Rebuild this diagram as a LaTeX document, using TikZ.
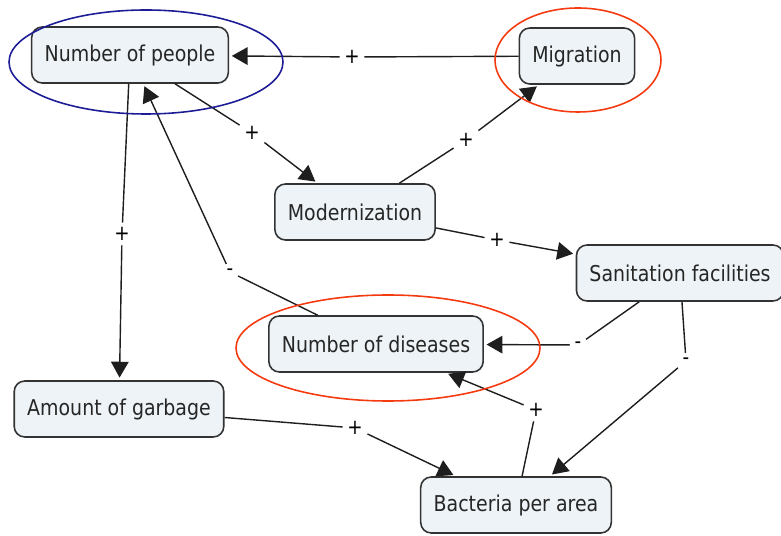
\documentclass[tikz,border=0pt]{standalone}
\usepackage{fontspec}
\setmainfont{DejaVu Sans}[FakeStretch=0.87]
\usetikzlibrary{arrows.meta}

\definecolor{conceptfill}{HTML}{EDF3F6}
\definecolor{conceptline}{HTML}{333333}
\definecolor{linkline}{HTML}{1E1E1E}
\definecolor{ringblue}{HTML}{1C1C96}
\definecolor{ringred}{HTML}{F53A10}

\begin{document}
\begin{tikzpicture}[x=0.02cm, y=-0.02cm,
    concept/.style={rectangle, rounded corners=6pt, draw=conceptline, line width=0.9pt,
        fill=conceptfill, minimum height=1.12cm, inner xsep=0.26cm,
        font=\fontsize{12.4}{14}\selectfont, text=black!85},
    linklabel/.style={fill=white, inner sep=2.5pt, font=\fontsize{12}{14}\selectfont},
    link/.style={line width=0.8pt, linkline},
    arrowlink/.style={link, shorten >=1.5pt, -{Triangle[length=9pt, width=10pt]}},
    ring/.style={line width=0.9pt}]
    \useasboundingbox (0,0) rectangle (781,536);

    % Concepts
    \node[concept] (people) at (130,55) {Number of people};
    \node[concept] (migration) at (577,56) {Migration};
    \node[concept] (modern) at (355,212) {Modernization};
    \node[concept] (sanitation) at (680,273) {Sanitation facilities};
    \node[concept] (diseases) at (376,344) {Number of diseases};
    \node[concept] (garbage) at (119,409) {Amount of garbage};
    \node[concept] (bacteria) at (516,505) {Bacteria per area};

    % Link labels
    \node[linklabel] (migpeople) at (352,57) {+};
    \node[linklabel] (peoplemod) at (252,133) {+};
    \node[linklabel] (modmig) at (466,140) {+};
    \node[linklabel] (peoplegarb) at (122,234) {+};
    \node[linklabel] (modsan) at (497,240) {+};
    \node[linklabel] (dispeople) at (230,272) {-};
    \node[linklabel] (sandis) at (578,345) {-};
    \node[linklabel] (sanbact) at (686,361) {-};
    \node[linklabel] (garbbact) at (355,428) {+};
    \node[linklabel] (bactdis) at (536,410) {+};

    % Links
    \draw[link] (migration) -- (migpeople);
    \draw[arrowlink] (migpeople) -- (people);
    \draw[link] (people) -- (peoplemod);
    \draw[arrowlink] (peoplemod) -- (modern);
    \draw[link] (modern) -- (modmig);
    \draw[arrowlink] (modmig) -- (migration);
    \draw[link] (people) -- (peoplegarb);
    \draw[arrowlink] (peoplegarb) -- (garbage);
    \draw[link] (modern) -- (modsan);
    \draw[arrowlink] (modsan) -- (sanitation);
    \draw[link] (diseases) -- (dispeople);
    \draw[arrowlink] (dispeople) -- (people);
    \draw[link] (sanitation) -- (sandis);
    \draw[arrowlink] (sandis) -- (diseases);
    \draw[link] (sanitation) -- (sanbact);
    \draw[arrowlink] (sanbact) -- (bacteria);
    \draw[link] (garbage) -- (garbbact);
    \draw[arrowlink] (garbbact) -- (bacteria);
    \draw[link] (bacteria) -- (bactdis);
    \draw[arrowlink] (bactdis) -- (diseases);

    % Highlight rings
    \draw[ring, ringblue] (146,62) ellipse [x radius=137, y radius=52];
    \draw[ring, ringred] (578,60) ellipse [x radius=83, y radius=52];
    \draw[ring, ringred] (388,348) ellipse [x radius=152, y radius=53];
\end{tikzpicture}
\end{document}
